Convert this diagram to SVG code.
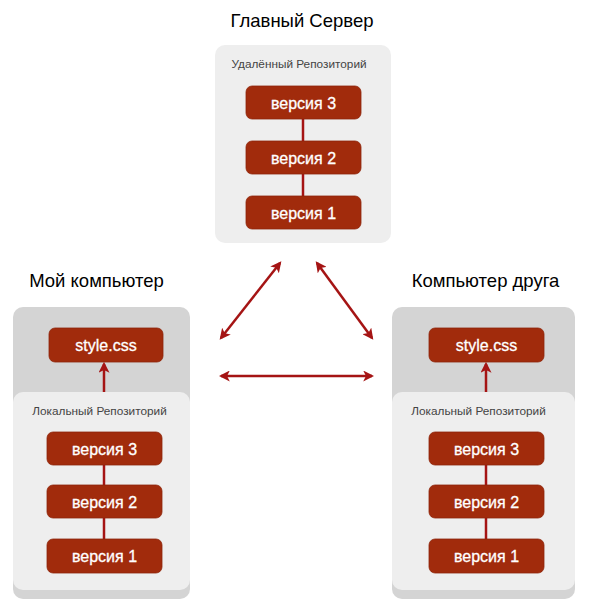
<svg xmlns="http://www.w3.org/2000/svg" width="591" height="609" viewBox="0 0 591 609">
<defs>
<style>
.title{font-family:"Liberation Sans",Arial,sans-serif;font-size:18.5px;fill:#000;text-anchor:middle}
.lbl{font-family:"Liberation Sans",Arial,sans-serif;font-size:11.8px;fill:#444;text-anchor:middle}
.node rect{fill:#a12b0c;stroke:#8e240a;stroke-width:0.8}
.node text{font-family:"Liberation Sans",Arial,sans-serif;font-size:16px;fill:#fff;text-anchor:middle;stroke:#fff;stroke-width:0.3}
.outer{fill:#d4d4d4}
.inner{fill:#eeeeee}
.link{stroke:#a51414;stroke-width:2.5;fill:none}
.arr{stroke:#a51414;stroke-width:2.5;fill:none}
</style>
<marker id="ah" viewBox="0 0 10 10" refX="8" refY="5" markerWidth="4.4" markerHeight="4.4" orient="auto-start-reverse" markerUnits="strokeWidth">
<path d="M0,0 L10,5 L0,10 L2.5,5 Z" fill="#a51414"/>
</marker>
</defs>

<text class="title" x="302" y="27">Главный Сервер</text>
<text class="title" x="96.5" y="287">Мой компьютер</text>
<text class="title" x="485.5" y="287">Компьютер друга</text>

<g id="server">
<rect x="215" y="45" width="176" height="198" rx="10" fill="#eeeeee"/>
<text class="lbl" x="299" y="68">Удалённый Репозиторий</text>
</g>

<g id="left-pc">
<rect class="outer" x="13" y="307" width="177" height="292" rx="10"/>
<rect class="inner" x="13" y="392" width="177" height="198" rx="10"/>
<text class="lbl" x="99.5" y="415">Локальный Репозиторий</text>
</g>

<g id="right-pc">
<rect class="outer" x="392" y="307" width="183" height="292" rx="10"/>
<rect class="inner" x="392" y="392" width="183" height="198" rx="10"/>
<text class="lbl" x="478.5" y="415">Локальный Репозиторий</text>
</g>

<g id="connectors">
<line class="link" x1="303" y1="119" x2="303" y2="141"/>
<line class="link" x1="303" y1="174" x2="303" y2="196"/>
<line class="link" x1="104" y1="465" x2="104" y2="485"/>
<line class="link" x1="104" y1="518" x2="104" y2="539"/>
<line class="link" x1="486" y1="465" x2="486" y2="485"/>
<line class="link" x1="486" y1="518" x2="486" y2="539"/>
<line class="arr" x1="104" y1="392" x2="104" y2="364" marker-end="url(#ah)"/>
<line class="arr" x1="486" y1="392" x2="486" y2="364" marker-end="url(#ah)"/>
<line class="arr" x1="221" y1="338" x2="280" y2="263" marker-start="url(#ah)" marker-end="url(#ah)"/>
<line class="arr" x1="317" y1="263" x2="372" y2="338" marker-start="url(#ah)" marker-end="url(#ah)"/>
<line class="arr" x1="221" y1="376" x2="372" y2="376" marker-start="url(#ah)" marker-end="url(#ah)"/>
</g>

<g id="srv-v3" class="node"><rect x="246" y="86" width="115" height="33" rx="6"/><text x="303.5" y="108.5">версия 3</text></g>
<g id="srv-v2" class="node"><rect x="246" y="141" width="115" height="33" rx="6"/><text x="303.5" y="163.5">версия 2</text></g>
<g id="srv-v1" class="node"><rect x="246" y="196" width="115" height="33" rx="6"/><text x="303.5" y="218.5">версия 1</text></g>

<g id="left-style" class="node"><rect x="49" y="328" width="114" height="34" rx="6"/><text x="106" y="351">style.css</text></g>
<g id="left-v3" class="node"><rect x="47" y="432" width="115" height="33" rx="6"/><text x="104.5" y="454.5">версия 3</text></g>
<g id="left-v2" class="node"><rect x="47" y="485" width="115" height="33" rx="6"/><text x="104.5" y="507.5">версия 2</text></g>
<g id="left-v1" class="node"><rect x="47" y="539" width="115" height="34" rx="6"/><text x="104.5" y="561.5">версия 1</text></g>

<g id="right-style" class="node"><rect x="429" y="328" width="115" height="34" rx="6"/><text x="486.5" y="351">style.css</text></g>
<g id="right-v3" class="node"><rect x="429" y="432" width="115" height="33" rx="6"/><text x="486.5" y="454.5">версия 3</text></g>
<g id="right-v2" class="node"><rect x="429" y="485" width="115" height="33" rx="6"/><text x="486.5" y="507.5">версия 2</text></g>
<g id="right-v1" class="node"><rect x="429" y="539" width="115" height="34" rx="6"/><text x="486.5" y="561.5">версия 1</text></g>
</svg>
